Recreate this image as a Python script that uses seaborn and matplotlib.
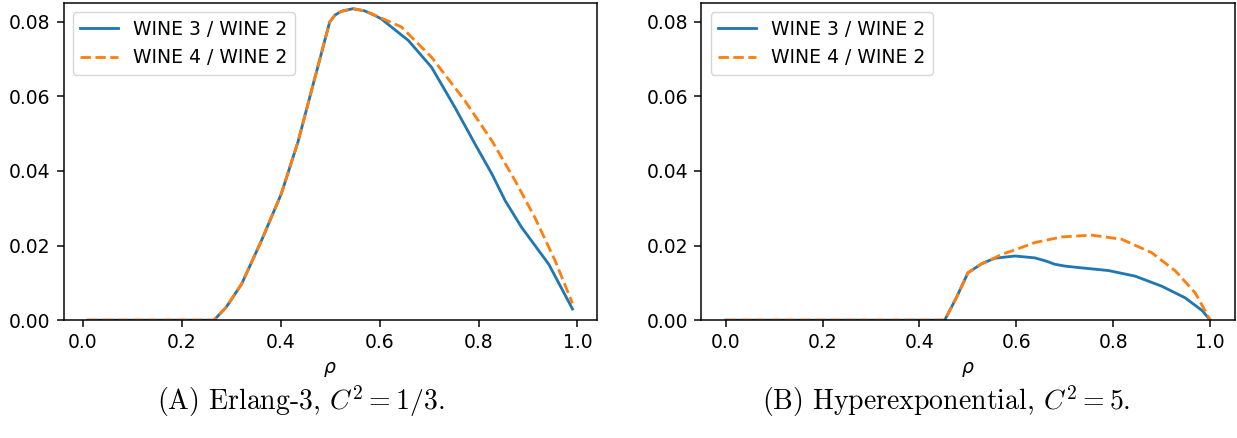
import numpy as np
import pandas as pd
import matplotlib
matplotlib.use("Agg")
import matplotlib.pyplot as plt
import seaborn as sns

# ---- data ----
# Panel A: Erlang-3
rho_a3 = [0.01, 0.1, 0.2, 0.265, 0.29, 0.321, 0.361, 0.401, 0.435, 0.462, 0.482, 0.499,
          0.51, 0.523, 0.546, 0.57, 0.59, 0.603, 0.637, 0.658, 0.705, 0.752, 0.793,
          0.827, 0.854, 0.887, 0.942, 0.99]
w3_a = [0, 0, 0, 0, 0.0035, 0.0097, 0.0213, 0.0338, 0.0478, 0.0614, 0.0714, 0.0799,
        0.0818, 0.0828, 0.0835, 0.0829, 0.0817, 0.0808, 0.0772, 0.0750, 0.0678, 0.0571,
        0.0472, 0.0392, 0.0320, 0.0249, 0.0150, 0.0030]
rho_a4 = [0.01, 0.1, 0.2, 0.265, 0.29, 0.321, 0.361, 0.401, 0.435, 0.462, 0.482, 0.499,
          0.51, 0.523, 0.546, 0.57, 0.59, 0.603, 0.644, 0.705, 0.772, 0.827, 0.874,
          0.914, 0.955, 0.99]
w4_a = [0, 0, 0, 0, 0.0035, 0.0097, 0.0213, 0.0338, 0.0478, 0.0614, 0.0714, 0.0799,
        0.0818, 0.0828, 0.0835, 0.0829, 0.0818, 0.0810, 0.0786, 0.0705, 0.0589, 0.0481,
        0.0374, 0.0275, 0.0159, 0.0045]

# Panel B: Hyperexponential
rho_b3 = [0.0, 0.1, 0.2, 0.3, 0.4, 0.452, 0.476, 0.5, 0.528, 0.555, 0.597, 0.638, 0.66,
          0.679, 0.7, 0.721, 0.79, 0.845, 0.9, 0.948, 0.983, 1.0]
w3_b = [0, 0, 0, 0, 0, 0, 0.0060, 0.0127, 0.0151, 0.0166, 0.0172, 0.0167, 0.0159,
        0.0150, 0.0145, 0.0142, 0.0133, 0.0118, 0.0091, 0.0060, 0.0026, 0.0]
rho_b4 = [0.0, 0.1, 0.2, 0.3, 0.4, 0.452, 0.476, 0.5, 0.528, 0.555, 0.569, 0.6, 0.638,
          0.693, 0.755, 0.817, 0.879, 0.928, 0.969, 1.0]
w4_b = [0, 0, 0, 0, 0, 0, 0.0060, 0.0127, 0.0151, 0.0167, 0.0176, 0.0190, 0.0208,
        0.0223, 0.0228, 0.0217, 0.0181, 0.0132, 0.0073, 0.0]

labels = ["WINE 3 / WINE 2", "WINE 4 / WINE 2"]
captions = [r"(A) Erlang-3, $C^2 = 1/3$.", r"(B) Hyperexponential, $C^2 = 5$."]
yticks = [0.0, 0.02, 0.04, 0.06, 0.08]
xticks = [0.0, 0.2, 0.4, 0.6, 0.8, 1.0]

s = 1.35
plt.rcParams["font.family"] = ["DejaVu Sans"]
plt.rcParams.update({
    "xtick.major.size": 3.5 * s, "ytick.major.size": 3.5 * s,
    "xtick.major.pad": 3.5 * s, "ytick.major.pad": 3.5 * s,
    "xtick.major.width": 0.8 * s, "ytick.major.width": 0.8 * s,
    "axes.linewidth": 0.8 * s, "axes.labelpad": 4.0 * s,
})

fig = plt.figure(figsize=(12.37, 4.38), dpi=100)
ax1 = fig.add_axes([0.0514, 0.269, 0.431, 0.724])
ax2 = fig.add_axes([0.567, 0.269, 0.431, 0.724])

panels = [(ax1, rho_a3, w3_a, rho_a4, w4_a), (ax2, rho_b3, w3_b, rho_b4, w4_b)]
for ax, x3, y3, x4, y4 in panels:
    sns.lineplot(x=x3, y=y3, ax=ax, color="#1f77b4", linewidth=1.5 * s,
                 label=labels[0], sort=False)
    sns.lineplot(x=x4, y=y4, ax=ax, color="#ff7f0e", linewidth=1.5 * s, linestyle="--",
                 label=labels[1], sort=False)
    ax.set_ylim(0, 0.085)
    ax.set_yticks(yticks)
    ax.set_yticklabels([f"{v:.2f}" for v in yticks])
    ax.set_xticks(xticks)
    ax.set_xticklabels([f"{v:.1f}" for v in xticks])
    ax.tick_params(labelsize=10 * s)
    ax.set_xlabel(r"$\rho$", fontsize=10 * s)
    ax.set_ylabel("")
    ax.grid(False)
    ax.legend(loc="upper left", fontsize=10 * s)

fig.text(0.243, 0.085, captions[0], ha="center", va="center", fontsize=20,
         family="cmr10", math_fontfamily="cm")
fig.text(0.765, 0.085, captions[1], ha="center", va="center", fontsize=20,
         family="cmr10", math_fontfamily="cm")

fig.savefig("out.png", dpi=100)
